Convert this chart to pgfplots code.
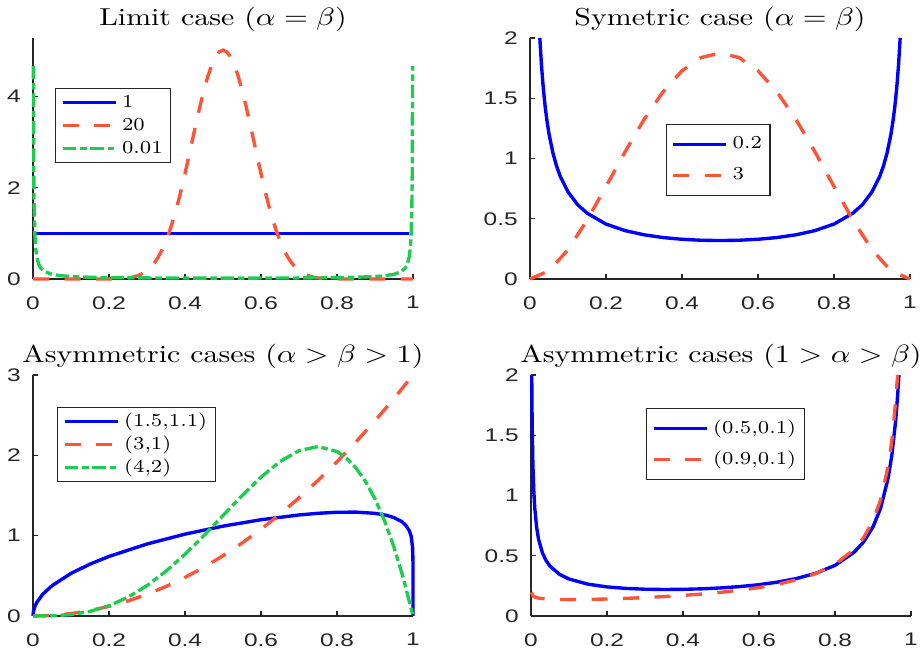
\documentclass[border=0pt]{standalone}
\usepackage{graphicx}
\usepackage{fontspec}
\usepackage{pgfplots}
\pgfplotsset{compat=1.18}
\newfontfamily\ticksans{Liberation Sans}[FakeStretch=1.34]

\definecolor{cblue}{rgb}{0,0,1}
\definecolor{cred}{rgb}{1,0.33,0.22}
\definecolor{cgreen}{rgb}{0.12,0.8,0.31}
\definecolor{axgray}{rgb}{0.15,0.15,0.15}

\newcommand\ttl[1]{\scalebox{1.22}[1]{#1}}
\newcommand\legtxt[1]{\scalebox{1.1}[1]{#1}}

\pgfplotsset{
  betaaxis/.style={
    scale only axis, width=152pt, height=96.4pt,
    xmin=0, xmax=1, ymin=0,
    axis lines*=left,
    axis line style={axgray, line width=0.5pt},
    every tick/.style={axgray, line width=0.5pt},
    major tick length=2pt,
    tick align=inside,
    xtick={0,0.2,0.4,0.6,0.8,1},
    /pgf/number format/assume math mode=true,
    ticklabel style={font=\ticksans\fontsize{7.3}{8.5}\selectfont, text=axgray},
    xticklabel style={yshift=-3.4pt},
    yticklabel style={xshift=-1.4pt},
    title style={font=\fontsize{9.8}{11.5}\selectfont, at={(0.5,1)}, anchor=base, yshift=-1pt},
    clip=false,
    legend cell align=left,
    legend image code/.code={\draw[##1] (0pt,0pt) -- (21.2pt,0pt);},
    legend style={draw=axgray, line width=0.5pt, fill=white, anchor=north west,
      font=\fontsize{7.3}{8.5}\selectfont, inner xsep=2.2pt, inner ysep=1.6pt,
      nodes={inner xsep=1pt, inner ysep=0.4pt, text height=5.4pt, text depth=1.8pt},
      column sep=0.8pt, row sep=1.2pt},
  },
  bluel/.style={cblue, line width=1.35pt},
  redl/.style={cred, line width=1.35pt, dash pattern=on 6.4pt off 6.2pt},
  greenl/.style={cgreen, line width=1.35pt, dash pattern=on 5.4pt off 1.5pt on 2.6pt off 1.5pt},
}

\begin{document}
\begin{tikzpicture}
\path[use as bounding box] (0,0) rectangle (368pt,260.4pt);

% ---------- top left: alpha = beta, limit cases ----------
\begin{axis}[betaaxis, at={(13.2pt,148.8pt)}, anchor=south west,
  ymax=5.28, ytick={0,2,4},
  title={\ttl{Limit case ($\alpha=\beta$)}},
  legend style={at={(0.058,0.793)}}]
\addplot[bluel] coordinates {(0.005,1) (0.99,1)};
\addlegendentry{\legtxt{1}}
\addplot[redl] coordinates {
(0,0) (0.1,0) (0.15,0.00001) (0.2,0.00104) (0.22,0.0039) (0.24,0.01255) (0.26,0.0346)
(0.28,0.0841) (0.30,0.1827) (0.31,0.2590) (0.32,0.359) (0.33,0.4860) (0.34,0.644)
(0.35,0.8357) (0.36,1.063) (0.37,1.3265) (0.38,1.625) (0.39,1.954) (0.40,2.309)
(0.41,2.682) (0.42,3.064) (0.43,3.443) (0.44,3.807) (0.45,4.143) (0.46,4.439)
(0.47,4.683) (0.48,4.865) (0.49,4.977) (0.50,5.015) (0.51,4.977) (0.52,4.865)
(0.53,4.683) (0.54,4.439) (0.55,4.143) (0.56,3.807) (0.57,3.443) (0.58,3.064)
(0.59,2.682) (0.60,2.309) (0.61,1.954) (0.62,1.625) (0.63,1.3265) (0.64,1.063)
(0.65,0.8357) (0.66,0.644) (0.67,0.4860) (0.68,0.359) (0.69,0.2590) (0.70,0.1827)
(0.72,0.0841) (0.74,0.0346) (0.76,0.01255) (0.78,0.0039) (0.80,0.00104)
(0.85,0.00001) (0.9,0) (1,0)};
\addlegendentry{\legtxt{20}}
\addplot[greenl] coordinates {
(0.001,4.672) (0.002,2.353) (0.003,1.577) (0.005,0.953) (0.007,0.6845) (0.01,0.4823)
(0.015,0.3245) (0.02,0.2453) (0.03,0.1660) (0.05,0.1021) (0.075,0.0702) (0.1,0.0542)
(0.15,0.0384) (0.2,0.0307) (0.3,0.0234) (0.4,0.0206) (0.5,0.0197) (0.6,0.0206)
(0.7,0.0234) (0.8,0.0307) (0.85,0.0384) (0.9,0.0542) (0.925,0.0702) (0.95,0.1021)
(0.97,0.1660) (0.98,0.2453) (0.985,0.3245) (0.99,0.4823) (0.993,0.6845) (0.995,0.953)
(0.997,1.577) (0.998,2.353) (0.999,4.672)};
\addlegendentry{\legtxt{0.01}}
\end{axis}

% ---------- top right: symmetric ----------
\begin{axis}[betaaxis, at={(212pt,148.8pt)}, anchor=south west,
  ymax=2, ytick={0,0.5,1,1.5,2},
  title={\ttl{Symetric case ($\alpha=\beta$)}},
  legend style={at={(0.357,0.643)}, inner ysep=3.9pt}, legend style={row sep=4.4pt}]
\addplot[bluel] coordinates {
(0.0259,2.0) (0.03,1.783) (0.035,1.5823) (0.04,1.428) (0.045,1.3052) (0.05,1.2047)
(0.06,1.0500) (0.07,0.9363) (0.08,0.8486) (0.10,0.7224) (0.125,0.6181) (0.15,0.5468)
(0.2,0.4559) (0.25,0.4016) (0.3,0.3668) (0.35,0.3441) (0.4,0.3296) (0.45,0.3216)
(0.5,0.3190) (0.55,0.3216) (0.6,0.3296) (0.65,0.3441) (0.7,0.3668) (0.75,0.4016)
(0.8,0.4559) (0.85,0.5468) (0.875,0.6181) (0.9,0.7224) (0.92,0.8486) (0.93,0.9363)
(0.94,1.0500) (0.95,1.2047) (0.955,1.3052) (0.96,1.428) (0.965,1.5823) (0.97,1.783)
(0.9741,2.0)};
\addlegendentry{\legtxt{0.2}\hspace{4pt}}
\addplot[redl] coordinates {
(0,0) (0.05,0.0677) (0.1,0.243) (0.15,0.4877) (0.2,0.768) (0.25,1.0547) (0.3,1.323)
(0.35,1.5527) (0.4,1.728) (0.45,1.8377) (0.5,1.875) (0.55,1.8377) (0.6,1.728)
(0.65,1.5527) (0.7,1.323) (0.75,1.0547) (0.8,0.768) (0.85,0.4877) (0.9,0.243)
(0.95,0.0677) (1,0)};
\addlegendentry{\legtxt{3}}
\end{axis}

% ---------- bottom left: alpha > beta > 1 ----------
\begin{axis}[betaaxis, at={(13.2pt,14pt)}, anchor=south west,
  ymax=3, ytick={0,1,2,3},
  title={\ttl{Asymmetric cases ($\alpha>\beta>1$)}},
  legend style={at={(0.0635,0.867)}}]
\addplot[bluel] coordinates {
(0,0) (0.001,0.0536) (0.005,0.1198) (0.01,0.1694) (0.025,0.2674) (0.05,0.3772)
(0.1,0.5306) (0.15,0.6461) (0.2,0.7416) (0.3,0.8962) (0.4,1.0190) (0.5,1.1187)
(0.6,1.1984) (0.7,1.2578) (0.75,1.2784) (0.8,1.2912) (0.85,1.2930) (0.9,1.2778)
(0.93,1.2534) (0.95,1.2249) (0.97,1.1761) (0.98,1.1352) (0.99,1.0645) (0.995,0.9957)
(0.999,0.8494) (0.9999,0.675) (1,0)};
\addlegendentry{\legtxt{(1.5,1.1)}}
\addplot[redl] coordinates {
(0,0) (0.05,0.0075) (0.1,0.03) (0.15,0.0675) (0.2,0.12) (0.25,0.1875) (0.3,0.27)
(0.35,0.3675) (0.4,0.48) (0.45,0.6075) (0.5,0.75) (0.55,0.9075) (0.6,1.08)
(0.65,1.2675) (0.7,1.47) (0.75,1.6875) (0.8,1.92) (0.85,2.1675) (0.9,2.43)
(0.95,2.7075) (1,3)};
\addlegendentry{\legtxt{(3,1)}}
\addplot[greenl] coordinates {
(0,0) (0.05,0.002375) (0.1,0.018) (0.15,0.057375) (0.2,0.128) (0.25,0.234375)
(0.3,0.378) (0.35,0.557375) (0.4,0.768) (0.45,1.002375) (0.5,1.25) (0.55,1.497375)
(0.6,1.728) (0.65,1.922375) (0.7,2.058) (0.75,2.109375) (0.8,2.048) (0.825,1.96531)
(0.85,1.842375) (0.875,1.67480) (0.9,1.458) (0.925,1.18718) (0.95,0.857375)
(0.975,0.46343) (1,0)};
\addlegendentry{\legtxt{(4,2)}}
\end{axis}

% ---------- bottom right: 1 > alpha > beta ----------
\begin{axis}[betaaxis, at={(212.4pt,14pt)}, anchor=south west,
  ymax=2, ytick={0,0.5,1,1.5,2},
  title={\ttl{Asymmetric cases ($1>\alpha>\beta$)}},
  legend style={at={(0.303,0.8625)}, inner ysep=3.9pt}, legend style={row sep=4.4pt}]
\addplot[bluel] coordinates {
(0.00195,2.0) (0.003,1.6168) (0.005,1.2546) (0.0075,1.0267) (0.01,0.8912)
(0.015,0.7310) (0.02,0.6359) (0.03,0.5241) (0.04,0.4581) (0.05,0.4136) (0.075,0.3459)
(0.1,0.3071) (0.15,0.2639) (0.2,0.2414) (0.25,0.2289) (0.3,0.2223) (0.35,0.2200)
(0.4,0.2213) (0.45,0.2254) (0.5,0.2331) (0.55,0.2443) (0.6,0.2599) (0.65,0.2816)
(0.7,0.3121) (0.75,0.3551) (0.8,0.4203) (0.85,0.5283) (0.875,0.6135) (0.9,0.7395)
(0.92,0.8941) (0.94,1.1459) (0.95,1.3431) (0.96,1.6332) (0.965,1.8371) (0.9683,2.0)};
\addlegendentry{\legtxt{(0.5,0.1)}}
\addplot[redl] coordinates {
(0.001,0.1964) (0.005,0.1678) (0.01,0.1573) (0.02,0.1481) (0.05,0.1390) (0.1,0.1361)
(0.15,0.1376) (0.2,0.1412) (0.25,0.1464) (0.3,0.1530) (0.35,0.1610) (0.4,0.1708)
(0.45,0.1824) (0.5,0.1967) (0.55,0.2143) (0.6,0.2359) (0.65,0.2640) (0.7,0.3014)
(0.75,0.3525) (0.8,0.4282) (0.85,0.5514) (0.875,0.6478) (0.9,0.7896) (0.92,0.9631)
(0.94,1.2450) (0.95,1.4655) (0.96,1.7896) (0.9647,2.0)};
\addlegendentry{\legtxt{(0.9,0.1)}}
\end{axis}
\end{tikzpicture}
\end{document}
